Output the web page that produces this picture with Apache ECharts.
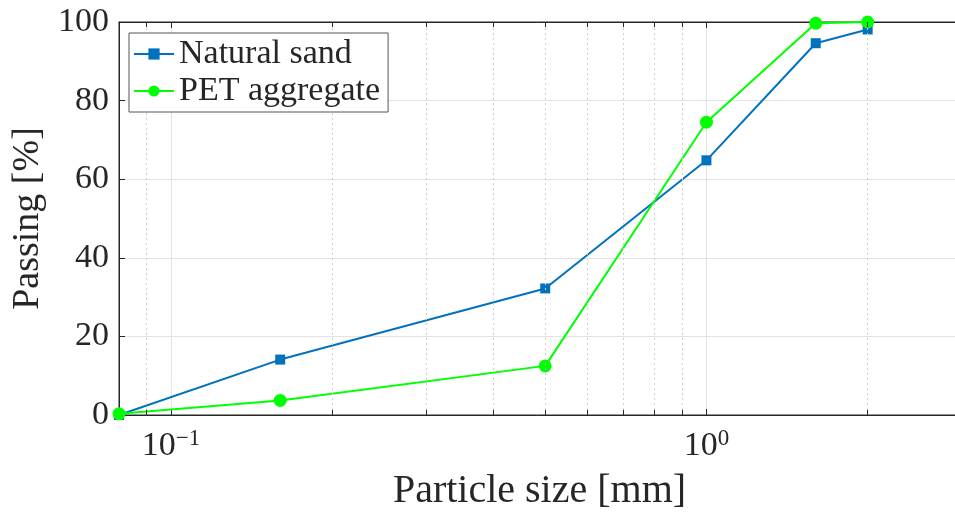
<!DOCTYPE html>
<html><head><meta charset="utf-8">
<script src="https://cdn.jsdelivr.net/npm/echarts@6/dist/echarts.min.js"></script>
<style>html,body{margin:0;padding:0;background:#fff}#c{width:955px;height:512px}</style>
</head><body><div id="c"></div>
<script>
// Data
const sieveSizes = [0.08, 0.16, 0.5, 1, 1.6, 2];
const naturalSand = [0, 14.1, 32.2, 64.8, 94.6, 98.1];
const petAggregate = [0.3, 3.7, 12.5, 74.5, 99.7, 100];
const seriesNames = ['Natural sand', 'PET aggregate'];
const yTicks = [0, 20, 40, 60, 80, 100];
const xMajorTicks = [0.1, 1];
const xMajorLabels = ['−1', '0'];
const xMinorTicks = [0.09, 0.2, 0.3, 0.4, 0.5, 0.6, 0.7, 0.8, 0.9, 2];

const FONT = 'Liberation Serif';
const TXT = '#262626';
const chart = echarts.init(document.getElementById('c'));

const minorGrid = xMinorTicks.map(v => ({ xAxis: v }));
const minorTickMarks = [];
xMinorTicks.forEach(v => {
  minorTickMarks.push([{ coord: [v, 0] }, { coord: [v, 1.3] }]);
  minorTickMarks.push([{ coord: [v, 100] }, { coord: [v, 98.7] }]);
});

function xLabel(v) {
  for (let i = 0; i < xMajorTicks.length; i++) {
    if (Math.abs(Math.log10(v) - Math.log10(xMajorTicks[i])) < 0.005) {
      return '{b|10}{s|' + xMajorLabels[i] + '}';
    }
  }
  return '';
}

chart.setOption({
  animation: false,
  backgroundColor: '#fff',
  grid: { left: 119, right: -5, top: 22, bottom: 97, outerBoundsMode: 'none', containLabel: false,
    show: true, borderColor: TXT, borderWidth: 1, backgroundColor: '#fff' },
  legend: {
    data: seriesNames,
    orient: 'vertical', left: 129, top: 33, z: 10,
    backgroundColor: '#fff', borderColor: '#555', borderWidth: 1,
    padding: [4, 8, 4, 4], itemGap: 3, itemWidth: 40, itemHeight: 14,
    textStyle: { fontFamily: FONT, fontSize: 34, color: TXT, lineHeight: 33 }
  },
  xAxis: [{
    type: 'log', logBase: 10, min: 0.08, max: 2.975,
    name: 'Particle size [mm]', nameLocation: 'middle', nameGap: 56,
    nameTextStyle: { fontFamily: FONT, fontSize: 40, color: TXT },
    axisLine: { show: true, lineStyle: { color: TXT, width: 1 } },
    axisTick: { show: true, inside: true, length: 6, lineStyle: { color: TXT } },
    axisLabel: {
      formatter: xLabel, margin: 12, color: TXT,
      rich: {
        b: { fontFamily: FONT, fontSize: 34, color: TXT },
        s: { fontFamily: FONT, fontSize: 23, color: TXT, verticalAlign: 'top', padding: [0, 0, 16, 0] }
      }
    },
    splitLine: { show: true, lineStyle: { color: '#e3e3e3', width: 1 } }
  }, {
    type: 'log', logBase: 10, min: 0.08, max: 2.975, position: 'top',
    axisLine: { show: true, lineStyle: { color: TXT, width: 1 } },
    axisTick: { show: true, inside: true, length: 6, lineStyle: { color: TXT } },
    axisLabel: { show: false }, splitLine: { show: false }
  }],
  yAxis: {
    type: 'value', min: 0, max: 100, interval: 20,
    name: 'Passing [%]', nameLocation: 'middle', nameGap: 70,
    nameTextStyle: { fontFamily: FONT, fontSize: 38, color: TXT },
    axisLine: { show: true, lineStyle: { color: TXT, width: 1 } },
    axisTick: { show: true, inside: true, length: 6, lineStyle: { color: TXT } },
    axisLabel: { fontFamily: FONT, fontSize: 34, color: TXT, margin: 10,
      formatter: v => (yTicks.indexOf(v) >= 0 ? String(v) : '') },
    splitLine: { show: true, lineStyle: { color: '#e3e3e3', width: 1 } }
  },
  series: [{
    name: seriesNames[0], type: 'line',
    data: sieveSizes.map((x, i) => [x, naturalSand[i]]),
    color: '#0072BD', symbol: 'rect', symbolSize: 10, showAllSymbol: true,
    lineStyle: { width: 2 }, itemStyle: { color: '#0072BD' },
    markLine: {
      silent: true, symbol: 'none', label: { show: false }, animation: false,
      lineStyle: { color: '#d0d0d0', type: [2, 3], width: 1 },
      data: minorGrid
    },
    z: 3
  }, {
    name: seriesNames[1], type: 'line',
    data: sieveSizes.map((x, i) => [x, petAggregate[i]]),
    color: '#00FF00', symbol: 'circle', symbolSize: 13, showAllSymbol: true,
    lineStyle: { width: 2 }, itemStyle: { color: '#00FF00' },
    markLine: {
      silent: true, symbol: 'none', label: { show: false }, animation: false,
      lineStyle: { color: TXT, type: 'solid', width: 1 },
      data: minorTickMarks
    },
    z: 4
  }]
});
</script></body></html>
